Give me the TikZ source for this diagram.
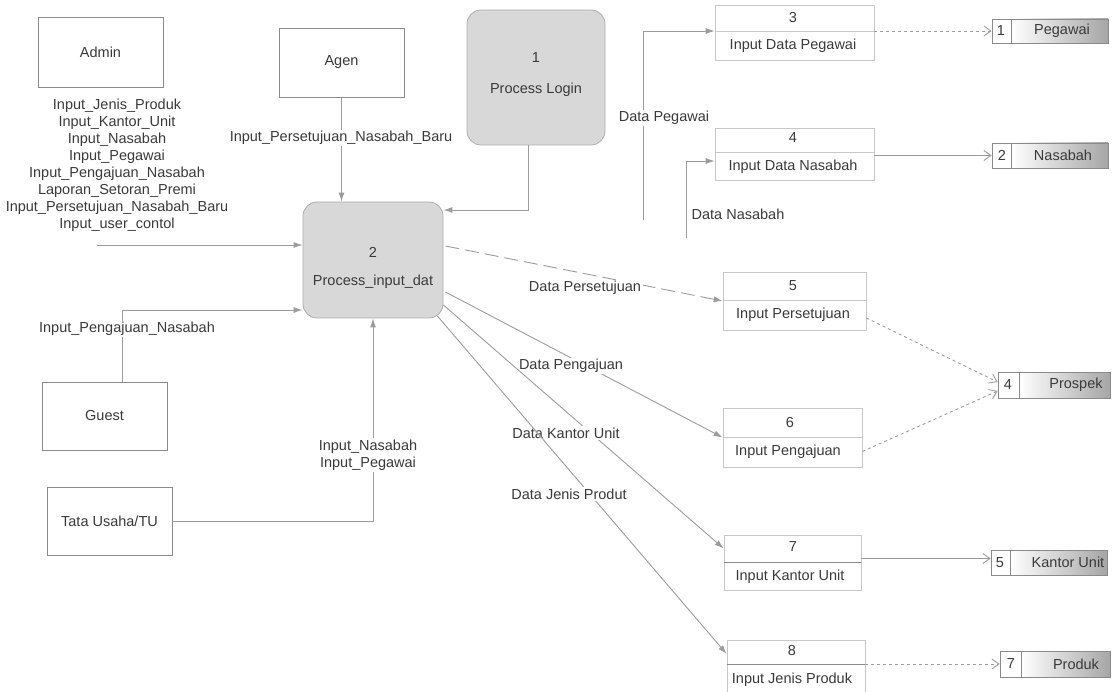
\documentclass[tikz,border=0pt]{standalone}
\usepackage{fontspec}
\setmainfont{Liberation Sans}
\usetikzlibrary{arrows.meta,calc}
\definecolor{ink}{HTML}{3A3A3A}
\definecolor{edge}{HTML}{8A8A8A}
\definecolor{flowc}{HTML}{9C9C9C}
\definecolor{procfill}{HTML}{D8D8D8}
\definecolor{subedge}{HTML}{C8C8C8}
\tikzset{
  base/.style={font=\fontsize{14.5}{17}\selectfont, text=ink},
  entity/.style={base, draw=edge, line width=0.9pt, fill=white,
    minimum width=125pt, minimum height=69pt, inner sep=0pt},
  mainproc/.style={draw=edge!70, line width=0.8pt, fill=procfill,
    rounded corners=14pt, inner sep=0pt},
  subproc/.style={draw=subedge, line width=0.7pt, inner sep=0pt},
  divider/.style={draw=subedge, line width=0.7pt},
  txt/.style={base, inner sep=1pt},
  lbl/.style={base, fill=white, inner sep=1.5pt, align=center},
  flow/.style={draw=flowc, line width=0.9pt, -{Latex[length=9pt,width=6pt]}},
  storeflow/.style={draw=flowc, line width=0.9pt, -{Straight Barb[length=7pt,width=10pt]}},
  storebox/.style={draw=edge, line width=0.8pt, inner sep=0pt},
  storeshade/.style={left color=white, right color=black!35},
}
\begin{document}
\begin{tikzpicture}[x=1pt, y=-1pt]
\useasboundingbox (0,0) rectangle (1113,692);

% ---------- external entities ----------
\node[entity, minimum height=70pt] (admin) at (100.5,52) {Admin};
\node[entity] (agen)  at (341.5,62.5) {Agen};
\node[entity, minimum height=68pt] (guest) at (104.5,416) {Guest};
\node[entity, minimum height=68pt] (tu)    at (109.5,521) {Tata Usaha/TU};

% ---------- main processes ----------
\node[mainproc, minimum width=138pt, minimum height=135pt] (P1) at (536,77.5) {};
\node[txt] (P1n) at (536,58) {1};
\node[txt] (P1t) at (536,90) {Process Login};

\node[mainproc, minimum width=140pt, minimum height=116pt] (P2) at (373,260) {};
\node[txt] (P2n) at (373,252) {2};
\node[txt] (P2t) at (373,282) {Process\_input\_dat};

% ---------- detail processes ----------
\node[subproc, minimum width=159pt, minimum height=55pt] (P3) at (794.5,32.5) {};
\draw[divider] (P3.west |- 0,31) -- (P3.east |- 0,31);
\node[txt] (P3n) at (793,18) {3};
\node[txt] (P3t) at (793,46) {Input Data Pegawai};

\node[subproc, minimum width=159pt, minimum height=52pt] (P4) at (794.5,154) {};
\draw[divider] (P4.west |- 0,152) -- (P4.east |- 0,152);
\node[txt] (P4n) at (793,138) {4};
\node[txt] (P4t) at (793,167) {Input Data Nasabah};

\node[subproc, minimum width=143pt, minimum height=58pt] (P5) at (794.5,301) {};
\draw[divider] (P5.west |- 0,300) -- (P5.east |- 0,300);
\node[txt] (P5n) at (793,286) {5};
\node[txt] (P5t) at (793,315) {Input Persetujuan};

\node[subproc, minimum width=139pt, minimum height=59pt] (P6) at (792.5,437.5) {};
\draw[divider] (P6.west |- 0,437) -- (P6.east |- 0,437);
\node[txt] (P6n) at (790,423) {6};
\node[txt] (P6t) at (788,452) {Input Pengajuan};

\node[subproc, minimum width=137pt, minimum height=55pt] (P7) at (792.5,562.5) {};
\draw[divider, draw=edge] (P7.west |- 0,562) -- (P7.east |- 0,562);
\node[txt] (P7n) at (793,547) {7};
\node[txt] (P7t) at (790,577) {Input Kantor Unit};

\node[subproc, minimum width=138pt, minimum height=54pt] (P8) at (796,667) {};
\draw[divider, draw=edge] (P8.west |- 0,664) -- (P8.east |- 0,664);
\node[txt] (P8n) at (792,651) {8};
\node[txt] (P8t) at (792,680) {Input Jenis Produk};

% ---------- data stores ----------
\shade[storeshade] (1011,19) rectangle (1108,43);
\node[storebox, minimum width=116pt, minimum height=24pt] (DS1) at (1050,31) {};
\draw[storebox] (1011,19) -- (1011,43);
\node[txt] (DS1n) at (1001,31) {1};
\node[txt] (DS1t) at (1062,31) {Pegawai};

\shade[storeshade] (1011,143) rectangle (1108,168);
\node[storebox, minimum width=116pt, minimum height=25pt] (DS2) at (1050,155.5) {};
\draw[storebox] (1011,143) -- (1011,168);
\node[txt] (DS2n) at (1002,155.5) {2};
\node[txt] (DS2t) at (1063,155.5) {Nasabah};

\shade[storeshade] (1019,372) rectangle (1110,398);
\node[storebox, minimum width=112pt, minimum height=26pt] (DS4) at (1054,385) {};
\draw[storebox] (1019,372) -- (1019,398);
\node[txt] (DS4n) at (1008,385) {4};
\node[txt] (DS4t) at (1076,385) {Prospek};

\shade[storeshade] (1010,550) rectangle (1107,575);
\node[storebox, minimum width=116pt, minimum height=25pt] (DS5) at (1049,562.5) {};
\draw[storebox] (1010,550) -- (1010,575);
\node[txt] (DS5n) at (1000,562.5) {5};
\node[txt] (DS5t) at (1068,562.5) {Kantor Unit};

\shade[storeshade] (1021,651) rectangle (1110,677);
\node[storebox, minimum width=110pt, minimum height=26pt] (DS7) at (1055,664) {};
\draw[storebox] (1021,651) -- (1021,677);
\node[txt] (DS7n) at (1011,664) {7};
\node[txt] (DS7t) at (1076,664) {Produk};

% ---------- flows into process 2 ----------
\coordinate (adminflow) at (97,245);
\draw[flow] (adminflow) -- (adminflow -| P2.west);
\node[base, align=center, inner sep=0pt] (adminlbl) at (117,165) {%
  Input\_Jenis\_Produk\\[0pt]
  Input\_Kantor\_Unit\\[0pt]
  Input\_Nasabah\\[0pt]
  Input\_Pegawai\\[0pt]
  Input\_Pengajuan\_Nasabah\\[0pt]
  Laporan\_Setoran\_Premi\\[0pt]
  Input\_Persetujuan\_Nasabah\_Baru\\[0pt]
  Input\_user\_contol};

\draw[flow] (agen.south) -- (agen.south |- P2.north);
\node[lbl] (agenlbl) at (341,138) {Input\_Persetujuan\_Nasabah\_Baru};

\draw[flow] ([xshift=-8pt]P1.south) |- ([yshift=50pt]P2.east);

\draw[flow] ([xshift=17.5pt]guest.north) |- ([yshift=-50pt]P2.west);
\node[lbl] (guestlbl) at (127,329) {Input\_Pengajuan\_Nasabah};

\draw[flow] (tu.east) -| (P2.south);
\node[lbl] (tulbl) at (368,455) {Input\_Nasabah\\Input\_Pegawai};

% ---------- flows into detail processes ----------
\coordinate (pegsrc) at (643,220);
\draw[flow] (pegsrc) |- (P3.west |- 0,31);
\node[lbl] (peglbl) at (664,118) {Data Pegawai};

\coordinate (nassrc) at (686,238);
\draw[flow] (nassrc) |- (P4.west |- 0,161);
\node[lbl] (naslbl) at (738,214) {Data Nasabah};

\draw[flow, dashed, dash pattern=on 14pt off 6pt] ([shift={(2pt,14pt)}]P2.east) -- (P5.west);
\node[lbl] (perlbl) at (585,288) {Data Persetujuan};

\draw[flow] ([shift={(2pt,-32pt)}]P2.east) -- (P6.west);
\node[lbl] (penlbl) at (571,366) {Data Pengajuan};

\draw[flow] ([shift={(0pt,-45pt)}]P2.east) -- ([yshift=14pt]P7.west);
\node[lbl] (kanlbl) at (566,433) {Data Kantor Unit};

\draw[flow] ([shift={(-6pt,-56pt)}]P2.east) -- ([yshift=13pt]P8.west);
\node[lbl] (jenlbl) at (569,494) {Data Jenis Produt};

% ---------- flows into data stores ----------
\draw[storeflow, dashed] (P3.east |- DS1.west) -- (DS1.west);
\draw[storeflow] (P4.east |- DS2.west) -- (DS2.west);
\draw[storeflow, dashed] ([yshift=-17pt]P5.east) -- ([yshift=3pt]DS4.west);
\draw[storeflow, dashed] ([yshift=-14pt]P6.east) -- ([yshift=-6pt]DS4.west);
\draw[storeflow] ([yshift=4pt]P7.east) -- ([yshift=4pt]DS5.west);
\draw[storeflow, dashed] (P8.east |- DS7.west) -- (DS7.west);
\end{tikzpicture}
\end{document}
